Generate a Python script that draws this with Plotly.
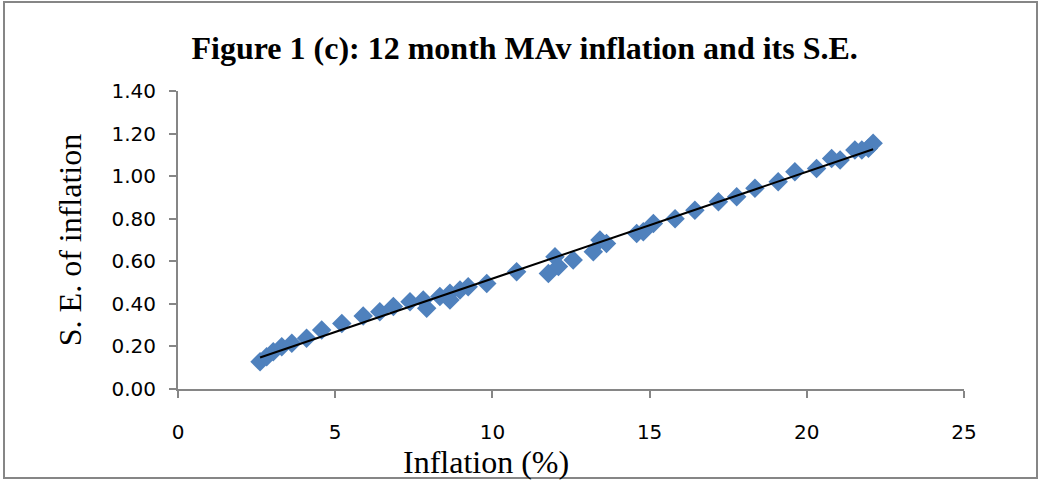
import numpy as np
import plotly.graph_objects as go

inflation = [2.61, 2.82, 3.03, 3.30, 3.62, 4.09, 4.57, 5.21, 5.89, 6.42, 6.85,
             7.38, 7.80, 7.91, 8.33, 8.65, 8.65, 8.97, 9.23, 9.82, 10.77,
             11.78, 11.99, 12.10, 12.57, 13.21, 13.42, 13.63, 14.59, 14.80,
             15.12, 15.81, 16.44, 17.19, 17.77, 18.35, 19.09, 19.62, 20.31,
             20.79, 21.06, 21.53, 21.75, 21.96, 22.11]
se_inflation = [0.128, 0.152, 0.175, 0.199, 0.215, 0.238, 0.277, 0.308, 0.343, 0.363, 0.387,
                0.410, 0.418, 0.379, 0.434, 0.450, 0.418, 0.465, 0.480, 0.496, 0.551,
                0.543, 0.621, 0.575, 0.606, 0.645, 0.700, 0.684, 0.730, 0.739,
                0.778, 0.800, 0.840, 0.880, 0.903, 0.943, 0.974, 1.021, 1.036,
                1.083, 1.076, 1.123, 1.123, 1.131, 1.154]

title_text = "Figure 1 (c): 12 month MAv inflation and its S.E."
x_title = "Inflation (%)"
y_title = "S. E. of inflation"

x = np.array(inflation)
y = np.array(se_inflation)
slope, intercept = np.polyfit(x, y, 1)
trend_x = [x.min(), x.max()]
trend_y = [slope * v + intercept for v in trend_x]

fig = go.Figure()
fig.add_trace(go.Scatter(x=inflation, y=se_inflation, mode="markers",
                         marker=dict(symbol="diamond", size=15, color="#4F81BD",
                                     line=dict(width=0)),
                         showlegend=False))
fig.add_trace(go.Scatter(x=trend_x, y=trend_y, mode="lines",
                         line=dict(color="black", width=2), showlegend=False))

axis_common = dict(showline=True, linecolor="#868686", linewidth=2, showgrid=False,
                   zeroline=False, ticks="outside", tickcolor="#868686", tickwidth=1.5,
                   ticklen=7, tickfont=dict(family="DejaVu Sans", size=20, color="black"))

fig.update_layout(
    width=1041, height=481,
    margin=dict(l=178, r=77, t=91, b=92),
    paper_bgcolor="white", plot_bgcolor="white",
    title=dict(text="<b>" + title_text + "</b>", x=0.504, xanchor="center",
               y=1 - 48 / 481, yanchor="middle", yref="container",
               font=dict(family="Liberation Serif", size=32, color="black")),
    xaxis=dict(range=[0, 25], dtick=5, tick0=0, ticklabelstandoff=17,
               **axis_common),
    yaxis=dict(range=[0, 1.4], dtick=0.2, tick0=0, tickformat=".2f", ticklabelstandoff=9,
               title=dict(text=y_title, standoff=20,
                          font=dict(family="Liberation Serif", size=32, color="black")),
               **axis_common),
)

fig.add_annotation(text=x_title, xref="paper", yref="paper",
                   x=(486 - 178) / 786, y=(389 - 462) / 298,
                   xanchor="center", yanchor="middle", showarrow=False,
                   font=dict(family="Liberation Serif", size=32, color="black"))

fig.add_shape(type="rect", xref="paper", yref="paper",
              x0=(4 - 178) / 786, x1=(1037 - 178) / 786,
              y0=(389 - 478) / 298, y1=(389 - 2) / 298,
              line=dict(color="#868686", width=2), fillcolor="rgba(0,0,0,0)",
              layer="below")

fig.write_html("out.html", config={"displayModeBar": False},
               post_script="document.body.style.margin='0';")
